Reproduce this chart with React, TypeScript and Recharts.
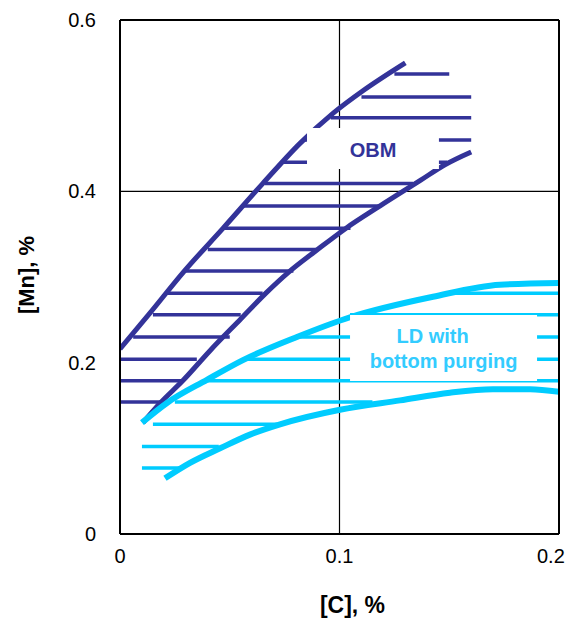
import React from 'react';
import {
  ComposedChart,
  Line,
  XAxis,
  YAxis,
  ReferenceLine,
  ReferenceArea,
  Label,
} from 'recharts';

const FONT = '"Liberation Sans", Arial, Helvetica, sans-serif';
const PURPLE = '#333399';
const CYAN = '#00CCFF';
const CYAN_TEXT = '#33CCFF';
const CHART_W = 558;
const CHART_H = 610;

// axis ticks
const xTicks = [0, 0.1, 0.2];
const yTicks = [0, 0.2, 0.4, 0.6];
const gridX = [0.1];
const gridY = [0.4];

// OBM region boundaries ([C], [Mn])
const obmUpperC = [0, 0.014, 0.029, 0.047, 0.065, 0.082, 0.097, 0.111, 0.13];
const obmUpperMn = [0.216, 0.259, 0.306, 0.357, 0.409, 0.456, 0.491, 0.518, 0.55];
const obmLowerC = [0.0105, 0.018, 0.029, 0.041, 0.055, 0.066, 0.077, 0.09, 0.103, 0.1185, 0.137, 0.148, 0.16];
const obmLowerMn = [0.13, 0.152, 0.18, 0.214, 0.251, 0.28, 0.306, 0.332, 0.357, 0.383, 0.413, 0.431, 0.446];

// OBM hatch lines
const obmHatchMn = [0.154, 0.179, 0.204, 0.23, 0.256, 0.281, 0.307, 0.332, 0.357, 0.383, 0.409, 0.434, 0.46, 0.486, 0.51, 0.537];
const obmHatchFrom = [0, 0, 0, 0.006, 0.015, 0.021, 0.03, 0.04, 0.047, 0.056, 0.066, 0.074, 0.083, 0.096, 0.11, 0.125];
const obmHatchTo = [0.019, 0.029, 0.035, 0.05, 0.055, 0.065, 0.079, 0.09, 0.105, 0.1185, 0.1335, 0.149, 0.16, 0.16, 0.16, 0.15];

// LD with bottom purging boundaries
const ldUpperC = [0.01, 0.0214, 0.0396, 0.056, 0.0806, 0.1048, 0.1426, 0.1731, 0.2];
const ldUpperMn = [0.13, 0.153, 0.18, 0.203, 0.23, 0.253, 0.277, 0.291, 0.293];
const ldLowerC = [0.0205, 0.0319, 0.0456, 0.0592, 0.0729, 0.1002, 0.1276, 0.1503, 0.1699, 0.1868, 0.2];
const ldLowerMn = [0.065, 0.083, 0.1, 0.116, 0.128, 0.145, 0.156, 0.165, 0.169, 0.169, 0.166];

// LD hatch lines
const ldHatchMn = [0.077, 0.102, 0.128, 0.154, 0.179, 0.204, 0.23, 0.256, 0.281];
const ldHatchFrom = [0.01, 0.01, 0.015, 0.025, 0.04, 0.056, 0.0806, 0.1048, 0.148];
const ldHatchTo = [0.028, 0.045, 0.074, 0.115, 0.2, 0.2, 0.2, 0.2, 0.2];

// label boxes
const obmBoxC = [0.0852, 0.1453];
const obmBoxMn = [0.426, 0.474];
const ldBoxC = [0.1048, 0.19];
const ldBoxMn = [0.1786, 0.2556];

const obmText = 'OBM';
const ldText = ['LD with', 'bottom purging'];
const xTitle = '[C], %';
const yTitle = '[Mn], %';

const toPoints = (xs: number[], ys: number[]) => xs.map((x, i) => ({ x, y: ys[i] }));

const toSegments = (ys: number[], from: number[], to: number[]) => {
  const out: { x: number; y: number | null }[] = [];
  ys.forEach((y, i) => {
    out.push({ x: from[i], y });
    out.push({ x: to[i], y });
    out.push({ x: to[i], y: null });
  });
  return out;
};

const obmUpper = toPoints(obmUpperC, obmUpperMn);
const obmLower = toPoints(obmLowerC, obmLowerMn);
const ldUpper = toPoints(ldUpperC, ldUpperMn);
const ldLower = toPoints(ldLowerC, ldLowerMn);
const obmHatch = toSegments(obmHatchMn, obmHatchFrom, obmHatchTo);
const ldHatch = toSegments(ldHatchMn, ldHatchFrom, ldHatchTo);

const renderObmLabel = (props: any) => {
  const vb = props.viewBox || {};
  return (
    <text
      x={vb.x + vb.width / 2}
      y={vb.y + 29}
      textAnchor="middle"
      fontFamily={FONT}
      fontWeight="bold"
      fontSize={20}
      fill={PURPLE}
    >
      {obmText}
    </text>
  );
};

const renderLdLabel = (props: any) => {
  const vb = props.viewBox || {};
  const cx = vb.x + vb.width / 2;
  return (
    <g>
      <text x={cx - 11} y={vb.y + 28} textAnchor="middle" fontFamily={FONT} fontWeight="bold" fontSize={20} fill={CYAN_TEXT}>
        {ldText[0]}
      </text>
      <text x={cx} y={vb.y + 53} textAnchor="middle" fontFamily={FONT} fontWeight="bold" fontSize={20} fill={CYAN_TEXT}>
        {ldText[1]}
      </text>
    </g>
  );
};

const renderXTitle = (props: any) => {
  const vb = props.viewBox || {};
  return (
    <text
      x={vb.x + vb.width / 2 + 13}
      y={vb.y + 79}
      textAnchor="middle"
      fontFamily={FONT}
      fontWeight="bold"
      fontSize={23}
      fill="#000"
    >
      {xTitle}
    </text>
  );
};

const renderYTitle = (props: any) => {
  const vb = props.viewBox || {};
  const x = vb.x + 26;
  const y = vb.y + vb.height / 2 - 2;
  return (
    <text
      x={x}
      y={y}
      transform={`rotate(-90, ${x}, ${y})`}
      textAnchor="middle"
      fontFamily={FONT}
      fontWeight="bold"
      fontSize={22}
      fill="#000"
    >
      {yTitle}
    </text>
  );
};

const XTick = (props: any) => {
  const { x, y, payload } = props;
  const label = String(payload.value);
  const half = label.length * 4.7;
  const cx = Math.min(x, CHART_W - 1 - half);
  return (
    <text x={cx} y={y} dy="0.71em" textAnchor="middle" fontFamily={FONT} fontSize={20} fill="#000">
      {label}
    </text>
  );
};

const tickStyle = { fontFamily: FONT, fontSize: 20, fill: '#000' };

export default function App() {
  return (
    <ComposedChart
      width={CHART_W}
      height={CHART_H}
      margin={{ top: 12, right: 7, bottom: 4, left: 0 }}
      style={{ fontFamily: FONT }}
    >
      <XAxis
        type="number"
        dataKey="x"
        domain={[0, 0.2]}
        ticks={xTicks}
        allowDataOverflow
        height={80}
        tickLine={false}
        tickSize={0}
        tickMargin={15}
        axisLine={{ stroke: '#000', strokeWidth: 2 }}
        tick={XTick}
        interval={0}
      >
        <Label content={renderXTitle} />
      </XAxis>
      <YAxis
        type="number"
        dataKey="y"
        domain={[0, 0.6]}
        ticks={yTicks}
        allowDataOverflow
        width={112}
        tickLine={false}
        tickSize={0}
        tickMargin={24}
        axisLine={{ stroke: '#000', strokeWidth: 2 }}
        tick={tickStyle}
        interval={0}
      >
        <Label content={renderYTitle} />
      </YAxis>

      {gridX.map((v) => (
        <ReferenceLine key={`gx${v}`} x={v} stroke="#000" strokeWidth={1.2} zIndex={50} />
      ))}
      {gridY.map((v) => (
        <ReferenceLine key={`gy${v}`} y={v} stroke="#000" strokeWidth={1.2} zIndex={50} />
      ))}

      <Line data={obmHatch} dataKey="y" type="linear" stroke={PURPLE} strokeWidth={3.5} dot={false} activeDot={false} isAnimationActive={false} connectNulls={false} />
      <Line data={ldHatch} dataKey="y" type="linear" stroke={CYAN} strokeWidth={3.5} dot={false} activeDot={false} isAnimationActive={false} connectNulls={false} />
      <Line data={obmUpper} dataKey="y" type="monotone" stroke={PURPLE} strokeWidth={5} dot={false} activeDot={false} isAnimationActive={false} />
      <Line data={obmLower} dataKey="y" type="monotone" stroke={PURPLE} strokeWidth={5} dot={false} activeDot={false} isAnimationActive={false} />
      <Line data={ldUpper} dataKey="y" type="monotone" stroke={CYAN} strokeWidth={6} dot={false} activeDot={false} isAnimationActive={false} />
      <Line data={ldLower} dataKey="y" type="monotone" stroke={CYAN} strokeWidth={6} dot={false} activeDot={false} isAnimationActive={false} />

      <ReferenceArea
        x1={obmBoxC[0]}
        x2={obmBoxC[1]}
        y1={obmBoxMn[0]}
        y2={obmBoxMn[1]}
        fill="#fff"
        fillOpacity={1}
        stroke="none"
        zIndex={1500}
        label={renderObmLabel}
      />
      <ReferenceArea
        x1={ldBoxC[0]}
        x2={ldBoxC[1]}
        y1={ldBoxMn[0]}
        y2={ldBoxMn[1]}
        fill="#fff"
        fillOpacity={1}
        stroke="none"
        zIndex={1500}
        label={renderLdLabel}
      />

      <ReferenceLine x={0.2} stroke="#000" strokeWidth={2} zIndex={1600} />
      <ReferenceLine y={0.6} stroke="#000" strokeWidth={2} zIndex={1600} />
    </ComposedChart>
  );
}
